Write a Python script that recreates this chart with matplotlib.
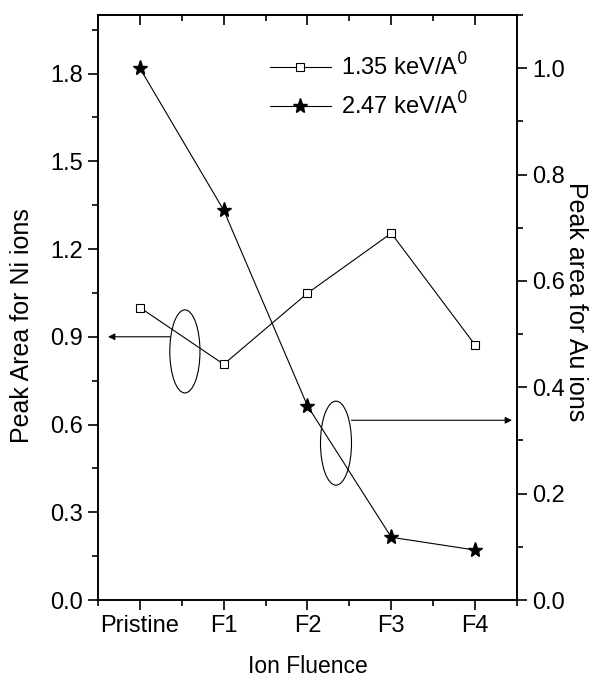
import matplotlib
matplotlib.use("Agg")
import matplotlib.pyplot as plt
from matplotlib.patches import Ellipse
from matplotlib.ticker import MultipleLocator, FormatStrFormatter

plt.rcParams['font.family'] = ['Liberation Sans', 'DejaVu Sans']

# data
fluence = ['Pristine', 'F1', 'F2', 'F3', 'F4']
ni_area = [1.0, 0.806, 1.049, 1.254, 0.872]   # 1.35 keV/A0, left axis
au_area = [1.0, 0.733, 0.365, 0.118, 0.094]   # 2.47 keV/A0, right axis
pos = list(range(len(fluence)))

fig = plt.figure(figsize=(5.91, 6.77), dpi=100)
ax = fig.add_axes([0.1658, 0.1137, 0.7090, 0.8641])
ax2 = ax.twinx()

l1, = ax.plot(pos, ni_area, color='black', lw=0.8, marker='s', ms=6,
              mfc='white', mec='black', mew=0.8, label='1.35 keV/A$^0$')
l2, = ax2.plot(pos, au_area, color='black', lw=0.8, marker='*', ms=11,
               mfc='black', mec='black', label='2.47 keV/A$^0$')

ax.set_xlim(-0.5, 4.5)
ax.set_ylim(0, 2.0)
ax2.set_ylim(0, 1.1)
ax.set_xticks(pos)
ax.set_xticklabels(fluence)
ax.xaxis.set_minor_locator(MultipleLocator(0.5))
ax.yaxis.set_major_locator(MultipleLocator(0.3))
ax.yaxis.set_minor_locator(MultipleLocator(0.15))
ax2.yaxis.set_major_locator(MultipleLocator(0.2))
ax2.yaxis.set_minor_locator(MultipleLocator(0.1))
ax.yaxis.set_major_formatter(FormatStrFormatter('%.1f'))
ax2.yaxis.set_major_formatter(FormatStrFormatter('%.1f'))

ax.tick_params(axis='both', which='major', direction='out', length=7, width=1.2,
               labelsize=17, pad=4)
ax.tick_params(axis='both', which='minor', direction='out', length=4, width=1.2)
ax2.tick_params(axis='y', which='major', direction='out', length=7, width=1.2,
                labelsize=17, pad=4)
ax2.tick_params(axis='y', which='minor', direction='out', length=4, width=1.2)

# top ticks point inwards
top = ax.secondary_xaxis('top')
top.set_xticks(pos)
top.set_xticklabels([])
top.xaxis.set_minor_locator(MultipleLocator(0.5))
top.tick_params(which='major', direction='in', length=7, width=1.2)
top.tick_params(which='minor', direction='in', length=4, width=1.2)

for a in (ax, ax2):
    for s in a.spines.values():
        s.set_linewidth(1.2)
top.spines['top'].set_linewidth(1.2)

ax.set_xlabel('Ion Fluence', fontsize=16.5, va='center')
ax.xaxis.set_label_coords(0.5, -0.113)
ax.set_ylabel('Peak Area for Ni ions', fontsize=18, va='center')
ax.yaxis.set_label_coords(-0.181, 0.47)
ax2.set_ylabel('Peak area for Au ions', fontsize=18, rotation=270, va='center')
ax2.yaxis.set_label_coords(1.141, 0.51)

# ellipses with arrows pointing to the related axis
ax.add_patch(Ellipse((0.537, 0.85), 0.36, 0.284, fill=False, ec='black', lw=0.8))
ax.annotate('', xy=(-0.38, 0.9), xytext=(0.36, 0.9),
            arrowprops=dict(arrowstyle='-|>', color='black', lw=0.8,
                            mutation_scale=10, shrinkA=0, shrinkB=0))
ax2.add_patch(Ellipse((2.34, 0.295), 0.37, 0.158, fill=False, ec='black', lw=0.8))
ax2.annotate('', xy=(4.44, 0.338), xytext=(2.525, 0.338),
             arrowprops=dict(arrowstyle='-|>', color='black', lw=0.8,
                             mutation_scale=10, shrinkA=0, shrinkB=0))

ax2.legend([l1, l2], [l1.get_label(), l2.get_label()], loc='upper left',
           bbox_to_anchor=(0.41, 0.935), frameon=False, fontsize=17,
           handlelength=2.6, handletextpad=0.4, labelspacing=0.5,
           borderpad=0, borderaxespad=0)

fig.savefig('out.png', dpi=100)
